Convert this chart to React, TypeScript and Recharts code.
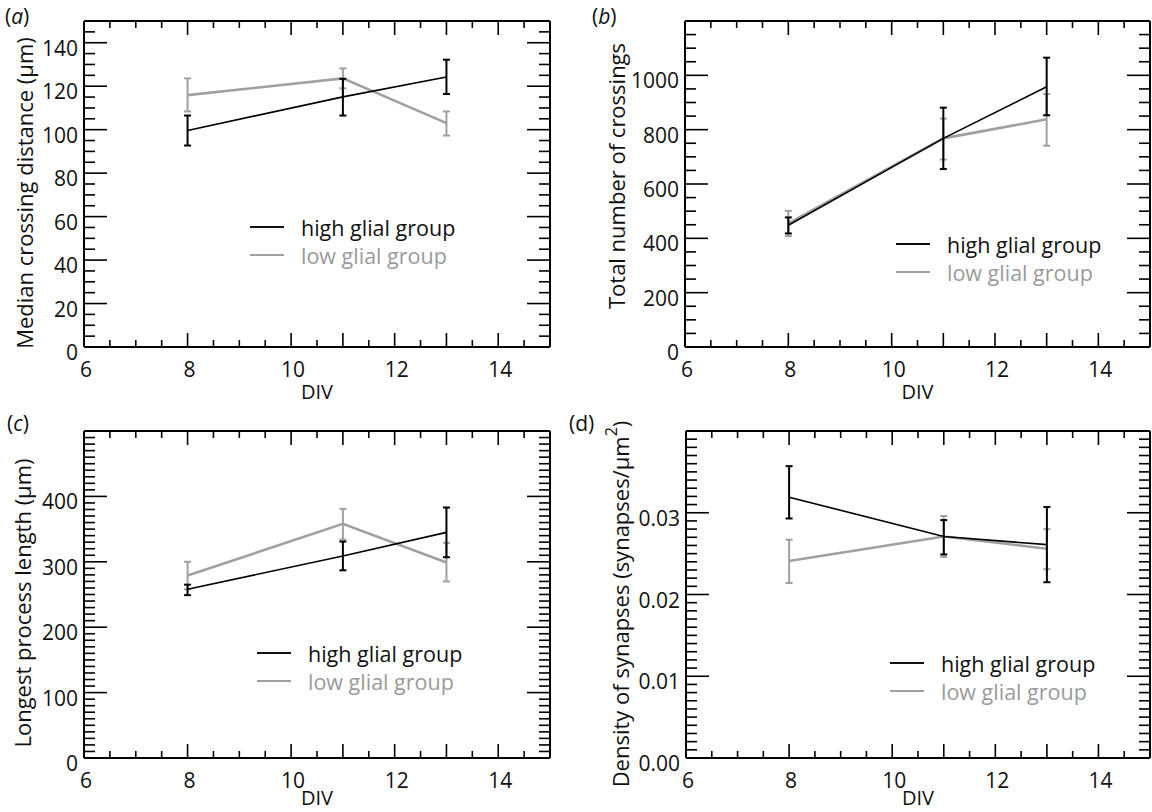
import { LineChart, Line, XAxis, YAxis, ErrorBar, Legend } from 'recharts'

const FONT = "'Open Sans', sans-serif"
const BLACK = '#000000'
const GRAY = '#a0a0a0'

// days in vitro sampled
const divDays = [8, 11, 13]
const groupNames = ['high glial group', 'low glial group']

// (a) median crossing distance (µm)
const distHigh = [99.6, 115.1, 124.2]
const distHighLo = [92.7, 106.5, 116.4]
const distHighHi = [106.5, 123.4, 132.2]
const distLow = [115.9, 123.6, 103.0]
const distLowLo = [108.4, 119.0, 97.3]
const distLowHi = [123.6, 128.2, 108.4]

// (b) total number of crossings
const crossHigh = [448, 768, 958]
const crossHighLo = [418, 655, 853]
const crossHighHi = [477, 881, 1065]
const crossLow = [455, 768, 838]
const crossLowLo = [408, 690, 741]
const crossLowHi = [501, 841, 931]

// (c) longest process length (µm)
const lenHigh = [258, 309, 345]
const lenHighLo = [249, 287, 307]
const lenHighHi = [265, 331, 383]
const lenLow = [279, 358, 299]
const lenLowLo = [258, 334, 270]
const lenLowHi = [300, 381, 329]

// (d) synapse density (synapses/µm²)
const densHigh = [0.0319, 0.0271, 0.0261]
const densHighLo = [0.0293, 0.0249, 0.0215]
const densHighHi = [0.0357, 0.0291, 0.0307]
const densLow = [0.0241, 0.0271, 0.0256]
const densLowLo = [0.0214, 0.0246, 0.0231]
const densLowHi = [0.0267, 0.0296, 0.028]

// tick labels
const xLabels = [6, 8, 10, 12, 14]
const xLongTicks = [6, 8, 10, 11, 12, 13, 14]
const distLabels = [0, 20, 40, 60, 80, 100, 120, 140]
const crossLabels = [0, 200, 400, 600, 800, 1000]
const lenLabels = [0, 100, 200, 300, 400]
const densLabels = [0, 0.01, 0.02, 0.03]

const steps = (from: number, to: number, step: number) => {
  const out: number[] = []
  const n = Math.round((to - from) / step)
  for (let i = 0; i <= n; i++) out.push(+(from + i * step).toFixed(6))
  return out
}

const buildRows = (h: number[], hLo: number[], hHi: number[], l: number[], lLo: number[], lHi: number[]) =>
  divDays.map((day, i) => ({
    day,
    high: h[i],
    highErr: [h[i] - hLo[i], hHi[i] - h[i]],
    low: l[i],
    lowErr: [l[i] - lLo[i], lHi[i] - l[i]],
  }))

const xTicks = steps(6, 15, 0.5)
const near = (arr: number[], v: number) => arr.some((a) => Math.abs(a - v) < 1e-9)

const renderLegend = () => (
  <div style={{ fontFamily: FONT, fontSize: 21.5 }}>
    {groupNames.map((name, i) => (
      <div key={name} style={{ display: 'flex', alignItems: 'center', height: 28 }}>
        <div style={{ width: 34, borderTop: `2.5px solid ${i === 0 ? '#111' : GRAY}`, marginRight: 17 }} />
        <span style={{ color: i === 0 ? '#111' : '#9a9a9a', whiteSpace: 'nowrap' }}>{name}</span>
      </div>
    ))}
  </div>
)

type PanelProps = {
  rows: any[]
  yMax: number
  yStep: number
  yLabels: number[]
  yFmt: (v: number) => string
  title: any
  titlePos: [number, number]
  margin: { top: number; right: number; bottom: number; left: number }
  legendPos: [number, number]
  left: number
  top: number
}

function Panel({ rows, yMax, yStep, yLabels, yFmt, title, titlePos, margin, legendPos, left, top }: PanelProps) {
  const yTicks = steps(0, yMax, yStep)

  const bottomTick = ({ x, y, payload }: any) => {
    const v = payload.value
    return (
      <g>
        <line x1={x} x2={x} y1={y} y2={y - (near(xLongTicks, v) ? 14 : 7)} stroke={BLACK} strokeWidth={1.6} />
        {near(xLabels, v) && (
          <text x={x + 2} y={y + 22} textAnchor="middle" dominantBaseline="central" fontSize={21} fontFamily={FONT} fill="#111">
            {v}
          </text>
        )}
      </g>
    )
  }
  const topTick = ({ x, y, payload }: any) => (
    <line x1={x} x2={x} y1={y} y2={y + (near(xLongTicks, payload.value) ? 14 : 7)} stroke={BLACK} strokeWidth={1.6} />
  )
  const leftTick = ({ x, y, payload }: any) => {
    const v = payload.value
    const major = near(yLabels, v)
    return (
      <g>
        <line x1={x} x2={x + (major ? 23 : 11)} y1={y} y2={y} stroke={BLACK} strokeWidth={1.6} />
        {major && (
          <text x={x - 6} y={y + 5} textAnchor="end" dominantBaseline="central" fontSize={21} fontFamily={FONT} fill="#111">
            {yFmt(v)}
          </text>
        )}
      </g>
    )
  }
  const rightTick = ({ x, y, payload }: any) => (
    <line x1={x} x2={x - (near(yLabels, payload.value) ? 23 : 11)} y1={y} y2={y} stroke={BLACK} strokeWidth={1.6} />
  )

  const yTitle = () => (
    <text
      x={titlePos[0]}
      y={titlePos[1]}
      transform={`rotate(-90 ${titlePos[0]} ${titlePos[1]})`}
      textAnchor="middle"
      dominantBaseline="central"
      fontSize={22}
      fontFamily={FONT}
      fill="#111"
    >
      {title}
    </text>
  )
  const xTitle = (props: any) => {
    const vb = props.viewBox
    return (
      <text x={vb.x + vb.width / 2} y={391} textAnchor="middle" dominantBaseline="central" fontSize={20} fontFamily={FONT} fill="#111">
        DIV
      </text>
    )
  }

  return (
    <div style={{ position: 'absolute', left, top }}>
      <LineChart width={576} height={406} data={rows} margin={margin}>
        <XAxis
          dataKey="day"
          type="number"
          domain={[6, 15]}
          ticks={xTicks}
          interval={0}
          allowDataOverflow
          height={10}
          tickSize={0}
          tickMargin={0}
          tick={bottomTick}
          tickLine={false}
          axisLine={{ stroke: BLACK, strokeWidth: 2 }}
          label={xTitle}
        />
        <XAxis
          xAxisId="top"
          orientation="top"
          dataKey="day"
          type="number"
          domain={[6, 15]}
          ticks={xTicks}
          interval={0}
          allowDataOverflow
          height={10}
          tickSize={0}
          tickMargin={0}
          tick={topTick}
          tickLine={false}
          axisLine={{ stroke: BLACK, strokeWidth: 2 }}
        />
        <YAxis
          type="number"
          domain={[0, yMax]}
          ticks={yTicks}
          interval={0}
          allowDataOverflow
          width={10}
          tickSize={0}
          tickMargin={0}
          tick={leftTick}
          tickLine={false}
          axisLine={{ stroke: BLACK, strokeWidth: 2 }}
          label={yTitle}
        />
        <YAxis
          yAxisId="right"
          orientation="right"
          type="number"
          domain={[0, yMax]}
          ticks={yTicks}
          interval={0}
          allowDataOverflow
          width={10}
          tickSize={0}
          tickMargin={0}
          tick={rightTick}
          tickLine={false}
          axisLine={{ stroke: BLACK, strokeWidth: 2 }}
        />
        <Legend
          layout="vertical"
          align="center"
          verticalAlign="middle"
          content={renderLegend}
          wrapperStyle={{ left: legendPos[0], top: legendPos[1], width: 260, height: 56 }}
        />
        <Line type="linear" dataKey="low" name={groupNames[1]} stroke={GRAY} strokeWidth={2.6} dot={false} activeDot={false} isAnimationActive={false}>
          <ErrorBar dataKey="lowErr" direction="y" width={3.5} stroke={GRAY} strokeWidth={2} isAnimationActive={false} />
        </Line>
        <Line type="linear" dataKey="high" name={groupNames[0]} stroke={BLACK} strokeWidth={1.6} dot={false} activeDot={false} isAnimationActive={false}>
          <ErrorBar dataKey="highErr" direction="y" width={3.5} stroke={BLACK} strokeWidth={2} isAnimationActive={false} />
        </Line>
      </LineChart>
    </div>
  )
}

const letterStyle = (left: number, top: number) => ({
  position: 'absolute' as const,
  left,
  top,
  fontFamily: FONT,
  fontSize: 21,
  lineHeight: '21px',
  color: '#111',
})

export default function App() {
  return (
    <div style={{ position: 'absolute', left: 0, top: 0, width: 1152, height: 812, background: '#fff', overflow: 'hidden' }}>
      <Panel
        rows={buildRows(distHigh, distHighLo, distHighHi, distLow, distLowLo, distLowHi)}
        yMax={150}
        yStep={5}
        yLabels={distLabels}
        yFmt={(v) => String(v)}
        title="Median crossing distance (μm)"
        titlePos={[24, 193]}
        margin={{ top: 11, right: 16, bottom: 49, left: 74 }}
        legendPos={[250, 213]}
        left={0}
        top={0}
      />
      <Panel
        rows={buildRows(crossHigh, crossHighLo, crossHighHi, crossLow, crossLowLo, crossLowHi)}
        yMax={1200}
        yStep={50}
        yLabels={crossLabels}
        yFmt={(v) => String(v)}
        title="Total number of crossings"
        titlePos={[40, 176]}
        margin={{ top: 11, right: -8, bottom: 49, left: 99 }}
        legendPos={[320, 230]}
        left={576}
        top={0}
      />
      <Panel
        rows={buildRows(lenHigh, lenHighLo, lenHighHi, lenLow, lenLowLo, lenLowHi)}
        yMax={500}
        yStep={10}
        yLabels={lenLabels}
        yFmt={(v) => String(v)}
        title="Longest process length (μm)"
        titlePos={[22, 197]}
        margin={{ top: 15, right: 16, bottom: 44, left: 74 }}
        legendPos={[257, 233]}
        left={0}
        top={406}
      />
      <Panel
        rows={buildRows(densHigh, densHighLo, densHighHi, densLow, densLowLo, densLowHi)}
        yMax={0.04}
        yStep={0.001}
        yLabels={densLabels}
        yFmt={(v) => v.toFixed(2)}
        title={
          <>
            Density of synapses (synapses/μm
            <tspan dy={-9} fontSize={16}>2</tspan>
            <tspan dy={9}>)</tspan>
          </>
        }
        titlePos={[44, 198]}
        margin={{ top: 15, right: -8, bottom: 44, left: 100 }}
        legendPos={[314, 243]}
        left={576}
        top={406}
      />
      <div style={letterStyle(5, 6)}>
        (<i>a</i>)
      </div>
      <div style={letterStyle(592, 6)}>
        (<i>b</i>)
      </div>
      <div style={letterStyle(7, 413)}>
        (<i>c</i>)
      </div>
      <div style={letterStyle(569, 413)}>(d)</div>
    </div>
  )
}
